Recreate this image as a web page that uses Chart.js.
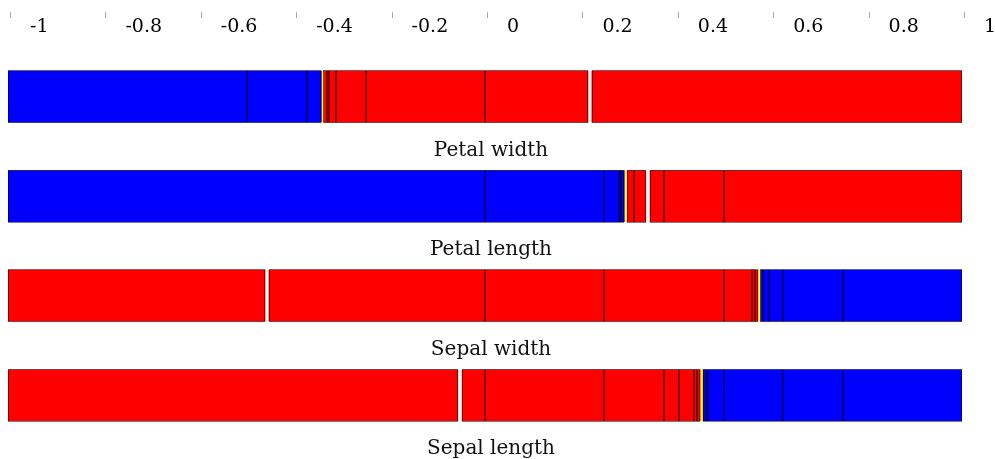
<!DOCTYPE html>
<html>
<head>
<meta charset="utf-8">
<script src="https://cdn.jsdelivr.net/npm/chart.js@4.4.1/dist/chart.umd.min.js"></script>
<style>
  html, body { margin: 0; padding: 0; background: #fff; }
</style>
</head>
<body>
<canvas id="chart" width="995" height="459"></canvas>
<script>
// rows of the plot, top to bottom
const features = ['Petal width', 'Petal length', 'Sepal width', 'Sepal length'];

const tickValues = [-1, -0.8, -0.6, -0.4, -0.2, 0, 0.2, 0.4, 0.6, 0.8, 1];
const tickLabels = ['-1', '-0.8', '-0.6', '-0.4', '-0.2', '0', '0.2', '0.4', '0.6', '0.8', '1'];

// segments [from, to] and their class: 0 = blue, 1 = red, 2 = marker
const petalWidthSegments = [[-1, -0.5], [-0.5, -0.374], [-0.374, -0.343], [-0.343, -0.339],
  [-0.339, -0.332], [-0.332, -0.326], [-0.326, -0.312], [-0.312, -0.25], [-0.25, 0], [0, 0.216], [0.224, 1]];
const petalWidthClasses = [0, 0, 0, 2, 1, 1, 1, 1, 1, 1, 1];

const petalLengthSegments = [[-1, 0], [0, 0.25], [0.25, 0.281], [0.281, 0.285], [0.285, 0.292], [0.292, 0.297],
  [0.297, 0.312], [0.312, 0.337], [0.346, 0.376], [0.376, 0.5], [0.5, 1]];
const petalLengthClasses = [0, 0, 0, 0, 0, 2, 1, 1, 1, 1, 1];

const sepalWidthSegments = [[-1, -0.461], [-0.453, 0], [0, 0.25], [0.25, 0.5], [0.5, 0.56], [0.56, 0.565],
  [0.565, 0.572], [0.572, 0.577], [0.577, 0.583], [0.583, 0.595], [0.595, 0.625], [0.625, 0.75], [0.75, 1]];
const sepalWidthClasses = [1, 1, 1, 1, 1, 1, 1, 2, 0, 0, 0, 0, 0];

const sepalLengthSegments = [[-1, -0.057], [-0.048, 0], [0, 0.25], [0.25, 0.375], [0.375, 0.407], [0.407, 0.438],
  [0.438, 0.444], [0.444, 0.451], [0.451, 0.456], [0.456, 0.463], [0.463, 0.468], [0.468, 0.5],
  [0.5, 0.625], [0.625, 0.75], [0.75, 1]];
const sepalLengthClasses = [1, 1, 1, 1, 1, 1, 1, 1, 2, 0, 0, 0, 0, 0, 0];

const classColors = ['#0000ff', '#ff0000', '#ffff00'];

const rows = [
  [petalWidthSegments, petalWidthClasses],
  [petalLengthSegments, petalLengthClasses],
  [sepalWidthSegments, sepalWidthClasses],
  [sepalLengthSegments, sepalLengthClasses]
];

// one dataset per segment slot, all overlaid on the same row
const nSlots = Math.max(...rows.map(r => r[0].length));
const datasets = [];
for (let j = 0; j < nSlots; j++) {
  datasets.push({
    data: rows.map(r => r[0][j] || null),
    backgroundColor: rows.map(r => classColors[r[1][j]] || 'transparent'),
    markerFlags: rows.map(r => r[1][j] === 2),
    borderWidth: 0,
    barThickness: 51,
    grouped: false
  });
}

// thin dark outline round each segment (not round the marker)
const outlinePlugin = {
  id: 'outline',
  afterDatasetsDraw(chart) {
    const ctx = chart.ctx;
    ctx.save();
    ctx.strokeStyle = 'rgba(0,0,0,0.5)';
    ctx.lineWidth = 1;
    chart.data.datasets.forEach((ds, di) => {
      chart.getDatasetMeta(di).data.forEach((el, i) => {
        if (!ds.data[i] || ds.markerFlags[i]) return;
        const p = el.getProps(['x', 'y', 'base', 'height'], true);
        const l = Math.round(Math.min(p.x, p.base));
        const r = Math.round(Math.max(p.x, p.base));
        const t = Math.round(p.y - p.height / 2);
        const b = Math.round(p.y + p.height / 2);
        ctx.strokeRect(l + 0.5, t - 0.5, r - l - 1, b - t + 1);
      });
    });
    ctx.restore();
  }
};

// feature names under each bar, small tick marks beside the axis labels
const decorPlugin = {
  id: 'decor',
  afterDraw(chart) {
    const ctx = chart.ctx;
    const xs = chart.scales.x, ys = chart.scales.y;
    const area = chart.chartArea;
    ctx.save();
    ctx.fillStyle = '#111';
    ctx.font = '20px "DejaVu Serif"';
    ctx.textAlign = 'center';
    ctx.textBaseline = 'alphabetic';
    features.forEach((f, i) => {
      ctx.fillText(f, (area.left + area.right) / 2 + 6, ys.getPixelForValue(i) + 59);
    });
    ctx.strokeStyle = '#aaa';
    ctx.lineWidth = 1;
    tickValues.forEach(v => {
      const px = Math.round(xs.getPixelForValue(v)) + 2.5;
      ctx.beginPath();
      ctx.moveTo(px, 12);
      ctx.lineTo(px, 18);
      ctx.stroke();
    });
    ctx.restore();
  }
};

new Chart(document.getElementById('chart').getContext('2d'), {
  type: 'bar',
  data: { labels: features, datasets: datasets },
  options: {
    responsive: false,
    animation: false,
    indexAxis: 'y',
    layout: { padding: { left: 8, right: 33, top: 8, bottom: 14 } },
    plugins: { legend: { display: false }, tooltip: { enabled: false } },
    scales: {
      x: {
        type: 'linear',
        position: 'top',
        min: -1,
        max: 1,
        grid: { display: false, drawTicks: false },
        border: { display: false },
        afterBuildTicks(scale) { scale.ticks = tickValues.map(v => ({ value: v })); },
        afterFit(scale) { scale.paddingLeft = 0; scale.paddingRight = 0; },
        ticks: {
          align: 'start',
          labelOffset: 22,
          padding: 8,
          color: '#000',
          font: { family: 'DejaVu Serif', size: 19 },
          callback: (value, index) => tickLabels[index]
        }
      },
      y: { display: false }
    }
  },
  plugins: [outlinePlugin, decorPlugin]
});
</script>
</body>
</html>
